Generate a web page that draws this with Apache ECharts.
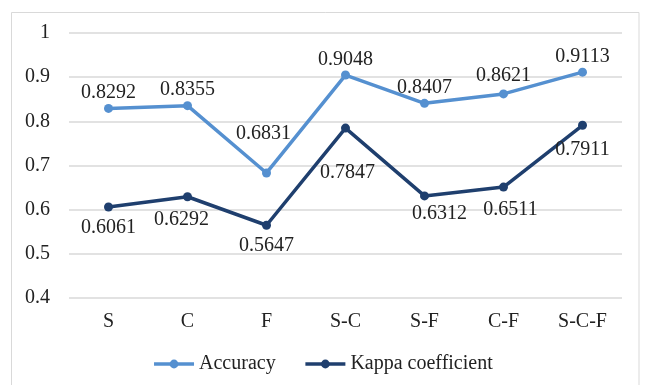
<!DOCTYPE html>
<html>
<head>
<meta charset="utf-8">
<script src="https://cdn.jsdelivr.net/npm/echarts@6/dist/echarts.min.js"></script>
<style>
html,body{margin:0;padding:0;background:#fff;}
#main{width:645px;height:385px;}
</style>
</head>
<body>
<div id="main"></div>
<script>
const categories = ['S', 'C', 'F', 'S-C', 'S-F', 'C-F', 'S-C-F'];
const accuracy = [0.8292, 0.8355, 0.6831, 0.9048, 0.8407, 0.8621, 0.9113];
const kappa = [0.6061, 0.6292, 0.5647, 0.7847, 0.6312, 0.6511, 0.7911];
const yTicks = [0.4, 0.5, 0.6, 0.7, 0.8, 0.9, 1];

const FONT = '"Liberation Serif", "Times New Roman", serif';
const accColor = '#5590D0';
const kapColor = '#1F3F6E';

// label placement tweaks (by index)
const accLabelTweaks = {2: {distance: 25, offset: [-3, 0]}, 5: {distance: 4, offset: [0, 0]}};
const kapLabelTweaks = {
  1: {distance: 8, offset: [-6, 0]},
  3: {distance: 30, offset: [2, 0]},
  4: {distance: 3, offset: [15, 0]},
  5: {distance: 8, offset: [7, 0]},
  6: {distance: 10, offset: [0, 0]}
};

function build(values, tweaks) {
  return values.map((v, i) => {
    const t = tweaks[i];
    if (!t) return v;
    return {value: v, label: {distance: t.distance, offset: t.offset}};
  });
}

const chart = echarts.init(document.getElementById('main'), null, {renderer: 'canvas'});
chart.setOption({
  animation: false,
  backgroundColor: '#fff',
  textStyle: {fontFamily: FONT},
  graphic: [{
    type: 'rect',
    shape: {x: 11.5, y: 12.5, width: 627.5, height: 380},
    style: {fill: 'none', stroke: '#d9d9d9', lineWidth: 1},
    silent: true
  }],
  grid: {left: 69, right: 23, top: 33, bottom: 87},
  legend: {
    bottom: 6,
    left: 'center',
    itemWidth: 40,
    itemHeight: 11,
    itemGap: 28,
    lineStyle: {width: 3.5},
    textStyle: {fontFamily: FONT, fontSize: 20, color: '#222'},
    data: ['Accuracy', 'Kappa coefficient']
  },
  xAxis: {
    type: 'category',
    data: categories,
    boundaryGap: true,
    axisLine: {show: false},
    axisTick: {show: false},
    axisLabel: {fontFamily: FONT, fontSize: 20, color: '#222', margin: 14}
  },
  yAxis: {
    type: 'value',
    min: yTicks[0],
    max: yTicks[yTicks.length - 1],
    interval: 0.1,
    axisLine: {show: false},
    axisTick: {show: false},
    splitLine: {lineStyle: {color: '#d9d9d9', width: 1.5}},
    axisLabel: {fontFamily: FONT, fontSize: 20, color: '#222', margin: 19,
      formatter: v => String(Math.round(v * 10) / 10)}
  },
  series: [
    {
      name: 'Accuracy',
      type: 'line',
      data: build(accuracy, accLabelTweaks),
      color: accColor,
      symbol: 'circle',
      symbolSize: 9,
      lineStyle: {width: 3.5, color: accColor},
      itemStyle: {color: accColor},
      label: {show: true, position: 'top', distance: 1, fontFamily: FONT, fontSize: 20, color: '#222',
        formatter: p => p.value.toFixed(4)},
      z: 3
    },
    {
      name: 'Kappa coefficient',
      type: 'line',
      data: build(kappa, kapLabelTweaks),
      color: kapColor,
      symbol: 'circle',
      symbolSize: 9,
      lineStyle: {width: 3.5, color: kapColor},
      itemStyle: {color: kapColor},
      label: {show: true, position: 'bottom', distance: 6, fontFamily: FONT, fontSize: 20, color: '#222',
        formatter: p => p.value.toFixed(4)},
      z: 2
    }
  ]
});
</script>
</body>
</html>
